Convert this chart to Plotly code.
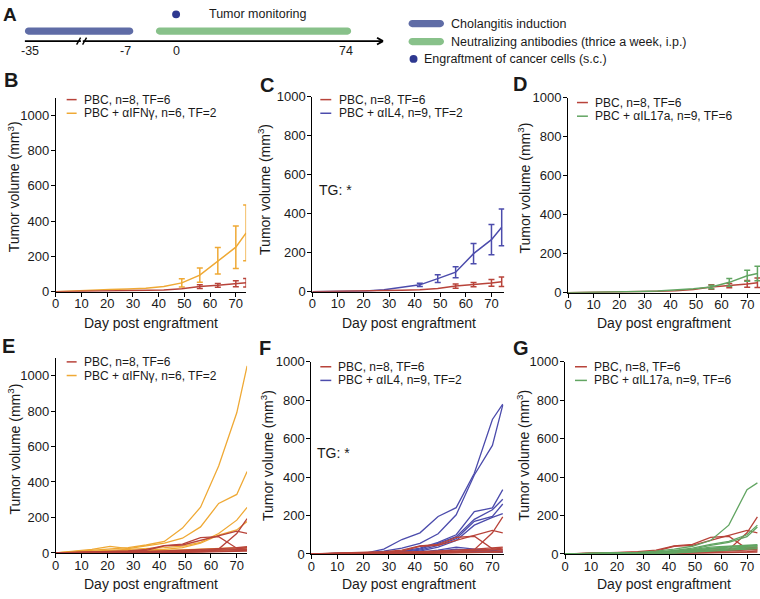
import plotly.graph_objects as go

W, H = 760, 599
FONT = "Liberation Sans, Arial, sans-serif"

# ---------------- data ----------------
days = [0, 7, 14, 21, 28, 35, 42, 49, 56, 63, 70, 74]

pbc_mean = [0, 1, 2, 3, 5, 7, 10, 16, 29, 36, 45, 51]
ifng_mean = [0, 5, 8, 12, 15, 20, 30, 50, 94, 175, 252, 333]
il4_mean = [0, 1, 2, 4, 10, 22, 35, 67, 100, 195, 267, 330]
il17a_mean = [0, 1, 2, 3, 6, 9, 14, 20, 29, 53, 87, 98]

pbc_err_days = [56, 63, 70, 74]
pbc_err = [11, 11, 17, 24]
ifng_err_days = [49, 56, 63, 70, 74]
ifng_err = [24, 40, 75, 120, 158]
il4_err_days = [42, 49, 56, 63, 70, 74]
il4_err = [8, 20, 28, 52, 78, 94]
il17a_err_days = [56, 63, 70, 74]
il17a_err = [9, 20, 28, 37]

pbc_mice = [
    [0, 1, 2, 3, 4, 5, 6, 8, 12, 22, 110, 193],
    [0, 2, 4, 6, 10, 15, 40, 45, 72, 95, 123, 110],
    [0, 2, 5, 8, 12, 20, 42, 50, 86, 92, 27, 20],
    [0, 1, 2, 4, 6, 9, 12, 15, 20, 25, 30, 35],
    [0, 1, 2, 3, 5, 7, 9, 12, 15, 18, 25, 30],
    [0, 1, 1, 2, 3, 5, 7, 9, 12, 15, 20, 22],
    [0, 0, 1, 1, 2, 3, 4, 5, 7, 10, 12, 15],
    [0, 0, 0, 1, 1, 2, 3, 4, 5, 6, 8, 10],
]
ifng_mice = [
    [0, 8, 15, 25, 30, 45, 65, 140, 258, 490, 790, 1055],
    [0, 10, 20, 37, 25, 40, 55, 83, 147, 279, 330, 459],
    [0, 5, 10, 15, 18, 25, 30, 38, 60, 110, 185, 257],
    [0, 3, 6, 10, 12, 15, 20, 30, 55, 100, 130, 178],
    [0, 2, 4, 6, 8, 10, 14, 18, 22, 25, 28, 32],
    [0, 1, 2, 3, 4, 5, 6, 8, 10, 15, 18, 22],
]
il4_mice = [
    [0, 1, 2, 4, 25, 75, 110, 195, 241, 420, 700, 780],
    [0, 1, 2, 3, 15, 30, 55, 105, 204, 411, 565, 775],
    [0, 1, 2, 3, 8, 15, 30, 60, 100, 220, 240, 335],
    [0, 1, 2, 3, 6, 12, 25, 55, 90, 180, 230, 285],
    [0, 1, 2, 3, 5, 10, 20, 45, 80, 170, 195, 260],
    [0, 1, 1, 2, 4, 8, 15, 35, 70, 150, 190, 210],
    [0, 0, 1, 2, 3, 6, 10, 20, 35, 25, 20, 15],
    [0, 0, 1, 1, 2, 4, 8, 15, 25, 20, 15, 10],
    [0, 0, 0, 1, 1, 2, 4, 8, 10, 12, 10, 8],
]
il17a_mice = [
    [0, 1, 2, 4, 8, 15, 25, 40, 70, 150, 335, 370],
    [0, 1, 2, 3, 6, 10, 18, 30, 50, 65, 100, 150],
    [0, 1, 2, 3, 5, 8, 15, 25, 45, 60, 90, 140],
    [0, 1, 2, 3, 5, 8, 14, 22, 35, 40, 45, 48],
    [0, 1, 2, 3, 4, 7, 12, 20, 30, 38, 42, 45],
    [0, 1, 1, 2, 4, 6, 10, 18, 28, 35, 40, 42],
    [0, 0, 1, 2, 3, 5, 8, 15, 25, 30, 35, 38],
    [0, 0, 1, 1, 2, 4, 6, 12, 20, 25, 30, 32],
    [0, 0, 0, 1, 2, 3, 5, 10, 15, 20, 25, 28],
]

x_ticks = [0, 10, 20, 30, 40, 50, 60, 70]
y_ticks = [0, 200, 400, 600, 800, 1000]

lbl_pbc = "PBC, n=8, TF=6"
lbl_ifng = "PBC + αIFNγ, n=6, TF=2"
lbl_il4 = "PBC + αIL4, n=9, TF=2"
lbl_il17a = "PBC + αIL17a, n=9, TF=6"

RED = "#b8433a"
ORANGE = "#efa935"
BLUE = "#4c4cac"
GREEN = "#62a562"
BAR_BLUE = "#5f6ca6"
BAR_GREEN = "#88c18a"
DOT = "#2e3890"


def X(px):
    return px / W


def Y(py):
    return 1 - py / H


# panel geometry: (x0px, x1px, xmax, ybot_px, ytop_px, ymax)
panels = {
    "B": (52, 243.4, 74, 292, 92.9, 1100),
    "C": (310, 502.9, 75, 292, 92, 1000),
    "D": (567, 760, 75, 293, 93, 1000),
    "E": (52, 244.4, 74, 560, 359.8, 1100),
    "F": (309, 502.7, 74.5, 561, 364, 1000),
    "G": (564, 760, 75, 561, 364, 1000),
}
order = ["B", "C", "D", "E", "F", "G"]

fig = go.Figure()
layout = dict(
    width=W, height=H, margin=dict(l=0, r=0, t=0, b=0),
    paper_bgcolor="white", plot_bgcolor="white", showlegend=False,
    font=dict(family=FONT, color="#1a1a1a", size=13),
)
axref = {}
for i, p in enumerate(order):
    n = "" if i == 0 else str(i + 1)
    x0, x1, xmax, yb, yt, ymax = panels[p]
    common = dict(showline=True, linecolor="black", linewidth=1, ticks="outside",
                  ticklen=4, tickcolor="black", showgrid=False, zeroline=False,
                  tickfont=dict(size=13, family=FONT, color="#1a1a1a"))
    layout["xaxis" + n] = dict(domain=[X(x0), X(x1)], range=[0, xmax], anchor="y" + n,
                               tickvals=x_ticks, ticklabelstandoff=-4, **common)
    layout["yaxis" + n] = dict(domain=[Y(yb), Y(yt)], range=[0, ymax], anchor="x" + n,
                               tickvals=y_ticks, ticklabelstandoff=-1, **common)
    axref[p] = ("x" + n, "y" + n)


def add_line(p, y, color, width=1.4):
    xa, ya = axref[p]
    fig.add_trace(go.Scatter(x=days, y=y, mode="lines", xaxis=xa, yaxis=ya,
                             line=dict(color=color, width=width), hoverinfo="skip"))


def add_err(p, d, means, err, color):
    xa, ya = axref[p]
    yv = [means[days.index(k)] for k in d]
    fig.add_trace(go.Scatter(x=d, y=yv, mode="markers", xaxis=xa, yaxis=ya,
                             marker=dict(size=1, opacity=0),
                             error_y=dict(type="data", array=err, color=color,
                                          thickness=1.5, width=3),
                             hoverinfo="skip"))


# mean panels
for p, m, e_d, e, c in [("B", ifng_mean, ifng_err_days, ifng_err, ORANGE),
                        ("C", il4_mean, il4_err_days, il4_err, BLUE),
                        ("D", il17a_mean, il17a_err_days, il17a_err, GREEN)]:
    if p == "D":
        add_line(p, pbc_mean, RED, 1.5)
        add_err(p, pbc_err_days, pbc_mean, pbc_err, RED)
        add_line(p, m, c, 1.5)
        add_err(p, e_d, m, e, c)
    else:
        add_line(p, m, c, 1.5)
        add_err(p, e_d, m, e, c)
        add_line(p, pbc_mean, RED, 1.5)
        add_err(p, pbc_err_days, pbc_mean, pbc_err, RED)

# individual panels
for mouse in ifng_mice:
    add_line("E", mouse, ORANGE, 1.3)
for mouse in pbc_mice:
    add_line("E", mouse, RED, 1.3)
for mouse in il4_mice:
    add_line("F", mouse, BLUE, 1.3)
for mouse in pbc_mice:
    add_line("F", mouse, RED, 1.3)
for mouse in pbc_mice:
    add_line("G", mouse, RED, 1.3)
for mouse in il17a_mice:
    add_line("G", mouse, GREEN, 1.3)

annotations = []
shapes = []


def text(x, y, s, size=13, xanchor="left", bold=False, angle=0, yanchor="middle"):
    annotations.append(dict(x=X(x), y=Y(y), xref="paper", yref="paper", text=s,
                            showarrow=False, xanchor=xanchor, yanchor=yanchor,
                            textangle=angle, borderpad=0,
                            font=dict(family=FONT, size=size, color="#1a1a1a",
                                      weight="bold" if bold else "normal")))


def hline(x0, x1, y, color, width=1.5):
    shapes.append(dict(type="line", xref="paper", yref="paper", x0=X(x0), x1=X(x1),
                       y0=Y(y), y1=Y(y), line=dict(color=color, width=width)))


def seg(x0, y0, x1, y1, color="black", width=1.6):
    shapes.append(dict(type="line", xref="paper", yref="paper", x0=X(x0), x1=X(x1),
                       y0=Y(y0), y1=Y(y1), line=dict(color=color, width=width)))


def pill(x0, x1, yc, h, color):
    r = h / 2
    t, b = yc - r, yc + r
    k = 0.55 * r
    path = (f"M {X(x0 + r)},{Y(t)} L {X(x1 - r)},{Y(t)} "
            f"C {X(x1 - r + k)},{Y(t)} {X(x1)},{Y(yc - k)} {X(x1)},{Y(yc)} "
            f"C {X(x1)},{Y(yc + k)} {X(x1 - r + k)},{Y(b)} {X(x1 - r)},{Y(b)} "
            f"L {X(x0 + r)},{Y(b)} "
            f"C {X(x0 + r - k)},{Y(b)} {X(x0)},{Y(yc + k)} {X(x0)},{Y(yc)} "
            f"C {X(x0)},{Y(yc - k)} {X(x0 + r - k)},{Y(t)} {X(x0 + r)},{Y(t)} Z")
    shapes.append(dict(type="path", xref="paper", yref="paper", path=path,
                       fillcolor=color, line=dict(width=0)))


def dot(xc, yc, r, color):
    shapes.append(dict(type="circle", xref="paper", yref="paper",
                       x0=X(xc - r), x1=X(xc + r), y0=Y(yc + r), y1=Y(yc - r),
                       fillcolor=color, line=dict(width=0)))


# ---- panel A: timeline ----
text(6, 8, "A", size=19, xanchor="center", bold=True)
pill(21, 130, 24.7, 7.4, BAR_BLUE)
pill(152.7, 349, 24.7, 7.4, BAR_GREEN)
dot(173, 7.5, 4, DOT)
text(205, 7, "Tumor monitoring", size=12.5)
seg(21, 35, 380, 35, width=1.8)
seg(77.3, 35, 79.2, 35, color="white", width=3)
seg(73, 38.5, 77, 31.5, width=1.4)
seg(79, 38.5, 83, 31.5, width=1.4)
seg(375, 31.5, 381, 35, width=1.8)
seg(375, 38.5, 381, 35, width=1.8)
for xv, s in [(26, "-35"), (122, "-7"), (173, "0"), (344, "74")]:
    text(xv, 45.5, s, size=12.5, xanchor="center")

pill(406.7, 442.3, 17, 7.4, BAR_BLUE)
text(448, 17, "Cholangitis induction", size=12.5)
pill(406.7, 442.3, 35.5, 7.4, BAR_GREEN)
text(448, 35.5, "Neutralizing antibodies (thrice a week, i.p.)", size=12.5)
dot(411.7, 53.3, 4, DOT)
text(421.7, 53.3, "Engraftment of cancer cells (s.c.)", size=12.5)

# ---- panel letters ----
for s, xv, yv in [("B", 7, 75), ("C", 264, 80), ("D", 519, 79),
                  ("E", 5, 348), ("F", 262, 350), ("G", 520, 350)]:
    text(xv, yv, s, size=20, xanchor="center", bold=True)

# ---- axis titles ----
ytitle = "Tumor volume (mm<sup>3</sup>)"
for xv, yv in [(10, 184), (262, 187), (523, 186), (10, 453), (265, 460), (522, 460)]:
    text(xv, yv, ytitle, size=14, xanchor="center", angle=-90)
for xv, yv in [(148, 324), (407, 324), (663, 324), (148, 592), (407, 592), (663, 592)]:
    text(xv, yv, "Day post engraftment", size=14, xanchor="center")

# ---- TG labels ----
text(316, 188, "TG: *", size=14)
text(314, 457, "TG: *", size=14)

# ---- legends ----
legends = [
    (63, 73, 79, 95, 109, ORANGE, lbl_ifng),
    (318, 329, 336, 95, 109, BLUE, lbl_il4),
    (576, 587, 593, 98, 112, GREEN, lbl_il17a),
    (63, 73, 79, 364, 378, ORANGE, lbl_ifng),
    (318, 329, 335, 369, 383, BLUE, lbl_il4),
    (574, 586, 592, 369, 383, GREEN, lbl_il17a),
]
for lx0, lx1, tx, y1, y2, c, lab in legends:
    hline(lx0, lx1, y1, RED)
    text(tx, y1, lbl_pbc, size=12)
    hline(lx0, lx1, y2, c)
    text(tx, y2, lab, size=12)

layout["annotations"] = annotations
layout["shapes"] = shapes
fig.update_layout(**layout)
fig.write_html("out.html",
               config={"displayModeBar": False},
               post_script="document.body.style.margin='0';document.body.style.overflow='hidden';")
